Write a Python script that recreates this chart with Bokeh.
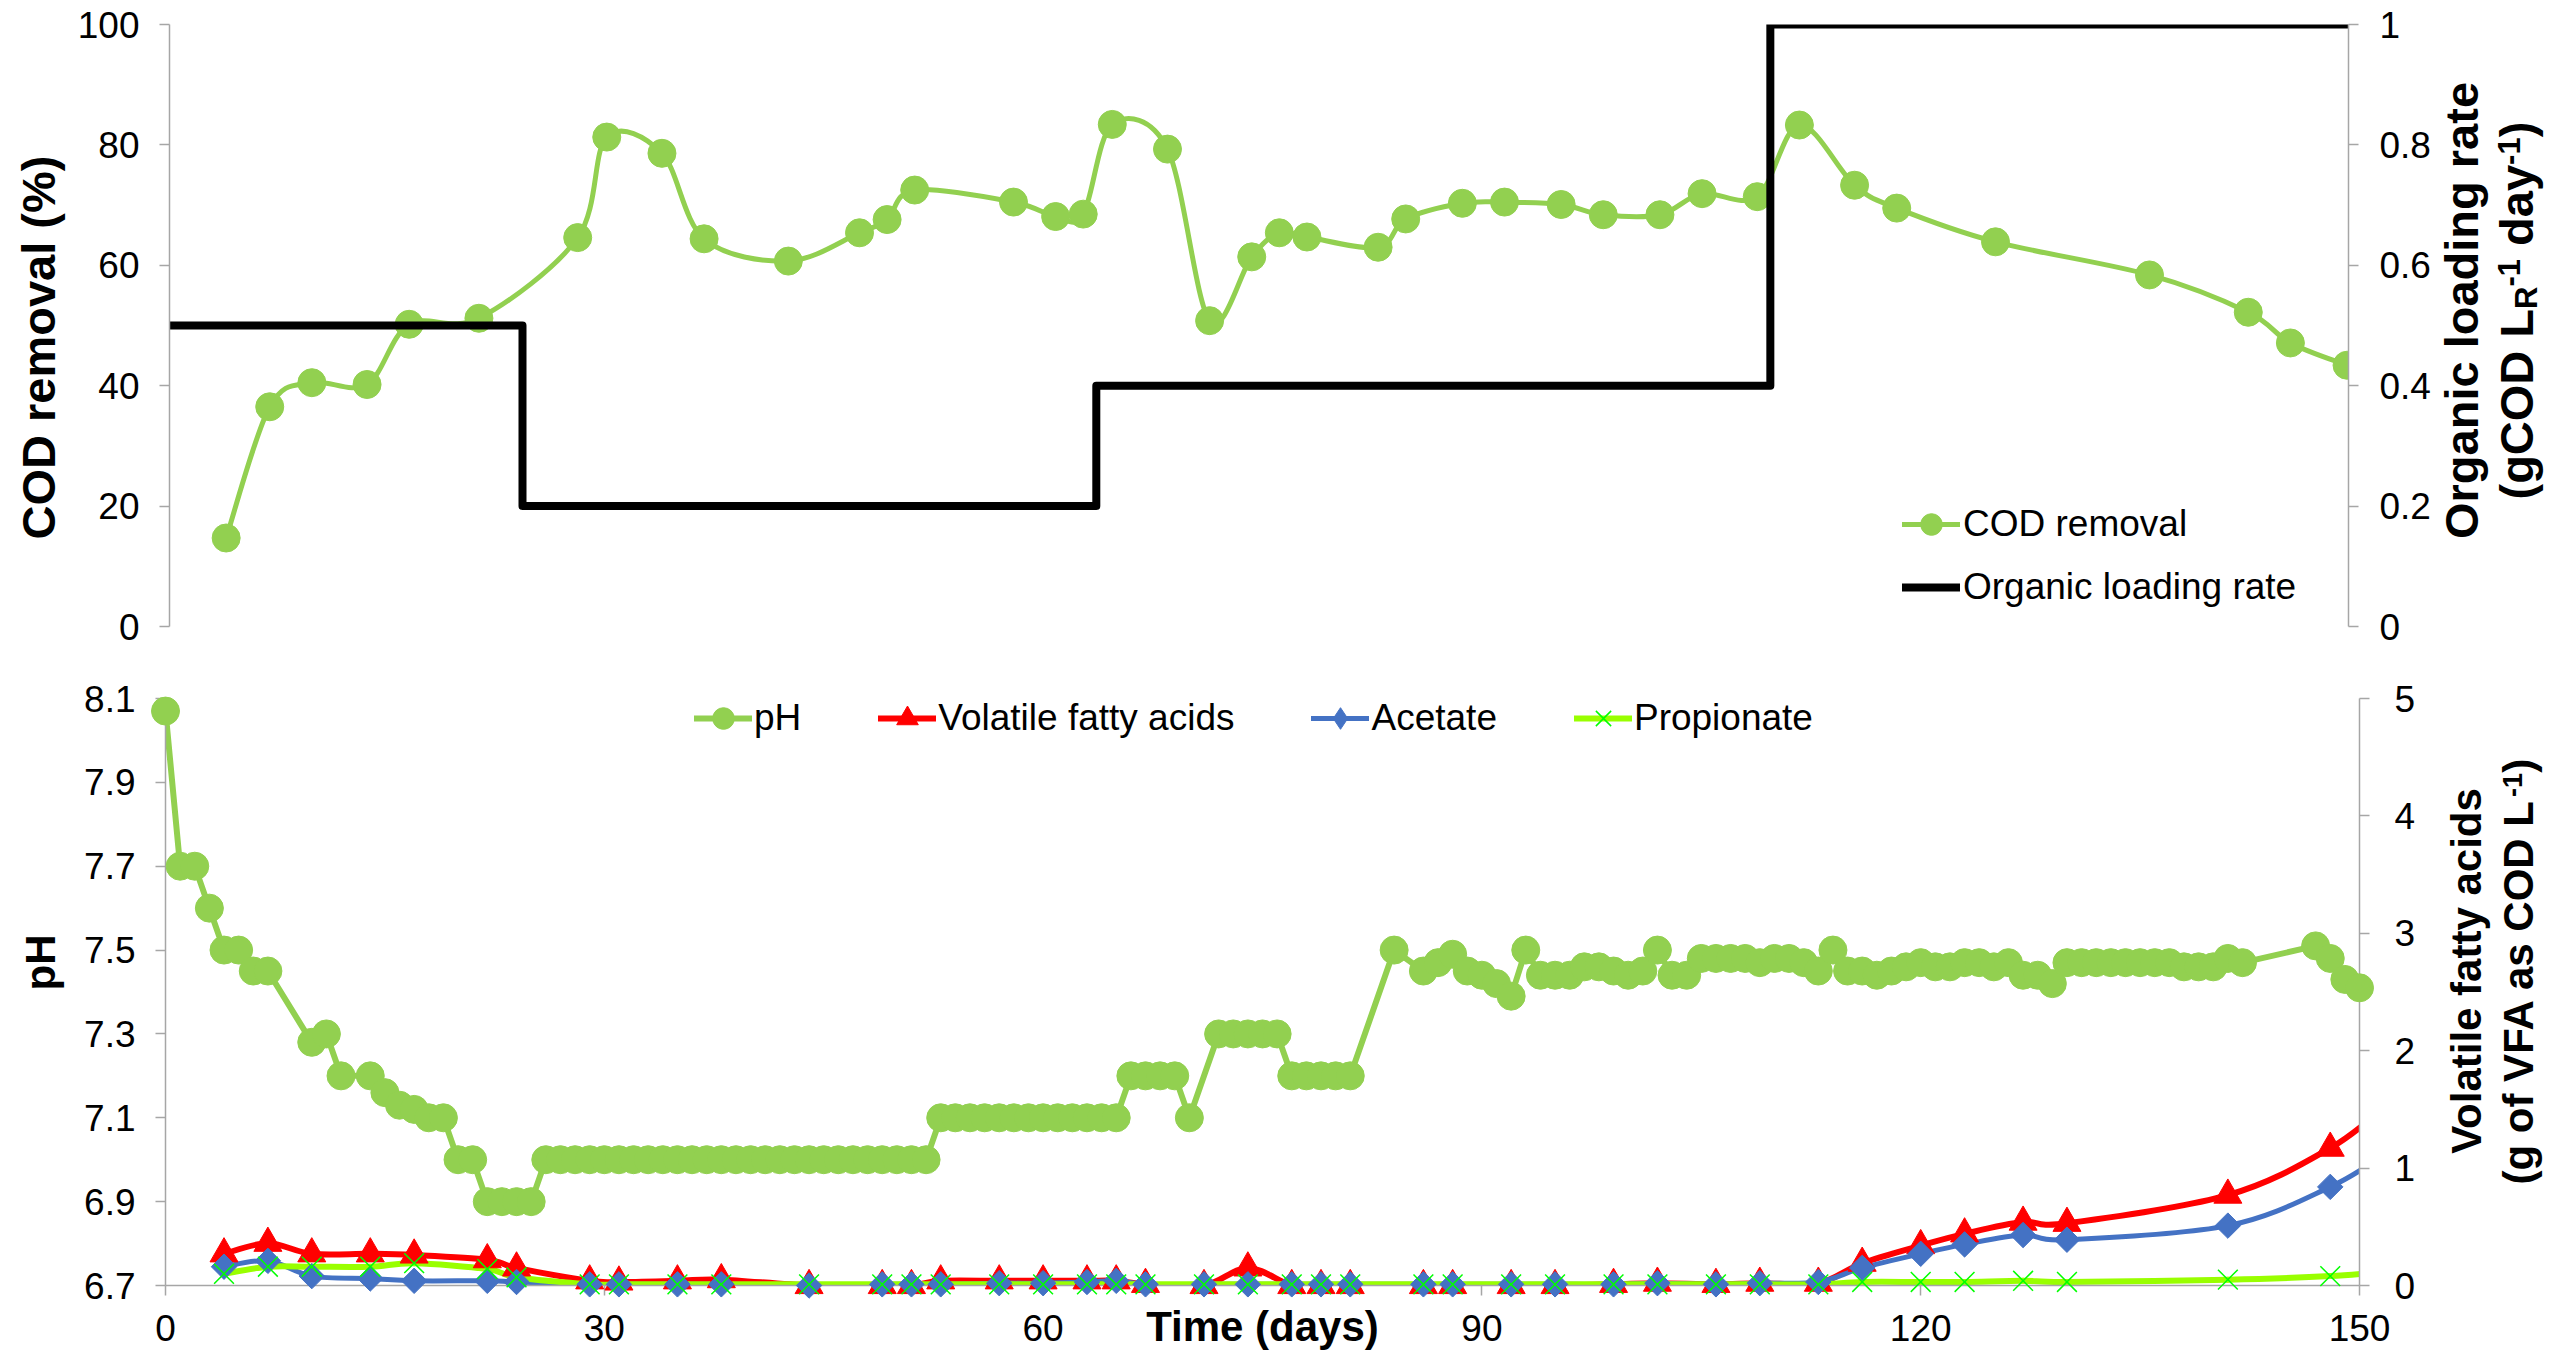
import math
from bokeh.plotting import figure
from bokeh.models import (Range1d, LinearAxis, FixedTicker, Legend, LegendItem, Label,
                          ColumnDataSource, CDSView, IndexFilter)
from bokeh.layouts import column, row
from bokeh.embed import file_html
from bokeh.resources import INLINE

FONT = "Liberation Sans"
GREEN = "#92D050"
RED = "#FF0000"
BLUE = "#4472C4"
LIME = "#99FF00"
XGREEN = "#00FF00"
AXIS_GRAY = "#A6A6A6"

# ---------------- data: top panel ----------------
cod_day = [3.9, 6.9, 9.8, 13.6, 16.5, 21.3, 28.1, 30.1, 33.9, 36.8, 42.6, 47.5, 49.4, 51.3,
           58.1, 61.0, 62.9, 64.9, 68.7, 71.6, 74.5, 76.4, 78.3, 83.2, 85.1, 89.0, 91.9,
           95.8, 98.7, 102.6, 105.5, 109.3, 112.2, 116.0, 118.9, 125.7, 136.3, 143.1, 146.0, 149.9]
cod_removal = [14.7, 36.5, 40.5, 40.2, 50.2, 51.2, 64.6, 81.3, 78.6, 64.4, 60.7, 65.4, 67.6, 72.5,
               70.5, 68.1, 68.5, 83.4, 79.3, 50.8, 61.4, 65.4, 64.7, 63.0, 67.7, 70.3, 70.5,
               70.1, 68.4, 68.4, 71.9, 71.4, 83.3, 73.3, 69.5, 63.9, 58.4, 52.2, 47.1, 43.4]
olr_day = [0, 24.3, 63.8, 110.2, 150]
olr_rate = [0.5, 0.2, 0.4, 1.0, 1.0]

# ---------------- data: bottom panel ----------------
ph_day = [0, 1, 2, 3, 4, 5, 6, 7, 10, 11, 12, 14, 15, 16, 17, 18, 19, 20, 21, 22, 23, 24, 25,
          26, 27, 28, 29, 30, 31, 32, 33, 34, 35, 36, 37, 38, 39, 40, 41, 42, 43, 44, 45, 46,
          47, 48, 49, 50, 51, 52,
          53, 54, 55, 56, 57, 58, 59, 60, 61, 62, 63, 64, 65,
          66, 67, 68, 69, 70, 72, 73, 74, 75, 76, 77, 78, 79, 80, 81,
          84, 86, 87, 88, 89, 90, 91, 92, 93, 94, 95, 96, 97, 98, 99, 100, 101, 102, 103, 104,
          105, 106, 107, 108, 109, 110, 111, 112, 113, 114, 115, 116, 117, 118, 119, 120, 121,
          122, 123, 124, 125, 126, 127, 128, 129,
          130, 131, 132, 133, 134, 135, 136, 137, 138, 139, 140, 141, 142, 147, 148, 149, 150]
ph = [8.07, 7.70, 7.70, 7.60, 7.50, 7.50, 7.45, 7.45, 7.28, 7.30, 7.20, 7.20, 7.16, 7.13, 7.12,
      7.10, 7.10, 7.00, 7.00, 6.90, 6.90, 6.90, 6.90,
      7.00, 7.00, 7.00, 7.00, 7.00, 7.00, 7.00, 7.00, 7.00, 7.00, 7.00, 7.00, 7.00, 7.00, 7.00,
      7.00, 7.00, 7.00, 7.00, 7.00, 7.00, 7.00, 7.00, 7.00, 7.00, 7.00, 7.00,
      7.10, 7.10, 7.10, 7.10, 7.10, 7.10, 7.10, 7.10, 7.10, 7.10, 7.10, 7.10, 7.10,
      7.20, 7.20, 7.20, 7.20, 7.10, 7.30, 7.30, 7.30, 7.30, 7.30, 7.20, 7.20, 7.20, 7.20, 7.20,
      7.50, 7.45, 7.47, 7.49, 7.45, 7.44, 7.42, 7.39, 7.50, 7.44, 7.44, 7.44, 7.46, 7.46, 7.45,
      7.44, 7.45, 7.50, 7.44, 7.44, 7.48, 7.48, 7.48, 7.48, 7.47, 7.48, 7.48, 7.47, 7.45, 7.50,
      7.45, 7.45, 7.44, 7.45, 7.46, 7.47, 7.46, 7.46, 7.47, 7.47, 7.46, 7.47, 7.44, 7.44, 7.42,
      7.47, 7.47, 7.47, 7.47, 7.47, 7.47, 7.47, 7.47, 7.46, 7.46, 7.46, 7.48, 7.47, 7.51, 7.48,
      7.43, 7.41]

vfa_day = [4, 7, 10, 14, 17, 22, 24, 29, 31, 35, 38, 44, 49, 51, 53, 57, 60, 63, 65, 67, 71,
           74, 77, 79, 81, 86, 88, 92, 95, 99, 102, 106, 109, 113, 116, 120, 123, 127, 130,
           141, 148, 152]
vfa = [0.27, 0.36, 0.27, 0.27, 0.26, 0.22, 0.15, 0.04, 0.03, 0.04, 0.05, 0.00, 0.00, 0.00,
       0.04, 0.04, 0.04, 0.04, 0.04, 0.01, 0.00, 0.15, 0.00, 0.00, 0.00, 0.00, 0.00, 0.00,
       0.00, 0.01, 0.02, 0.01, 0.02, 0.02, 0.19, 0.34, 0.44, 0.54, 0.53, 0.77, 1.17, 1.55]
acetate = [0.16, 0.21, 0.08, 0.06, 0.04, 0.04, 0.03, 0.01, 0.01, 0.01, 0.01, 0.00, 0.01, 0.01,
           0.01, 0.02, 0.02, 0.03, 0.04, 0.01, 0.01, 0.01, 0.01, 0.01, 0.01, 0.01, 0.01, 0.01,
           0.01, 0.01, 0.02, 0.01, 0.02, 0.03, 0.15, 0.27, 0.35, 0.43, 0.39, 0.51, 0.84, 1.14]
propionate = [0.10, 0.16, 0.16, 0.16, 0.19, 0.14, 0.07, 0.01, 0.01, 0.01, 0.01, 0.01, 0.01,
              0.01, 0.01, 0.01, 0.01, 0.01, 0.01, 0.01, 0.01, 0.01, 0.01, 0.01, 0.01, 0.01,
              0.01, 0.01, 0.01, 0.01, 0.01, 0.01, 0.01, 0.01, 0.03, 0.03, 0.03, 0.04, 0.03,
              0.05, 0.08, 0.12]

top_left_ticks = [0, 20, 40, 60, 80, 100]
top_right_ticks = [0, 0.2, 0.4, 0.6, 0.8, 1]
bot_left_ticks = [6.7, 6.9, 7.1, 7.3, 7.5, 7.7, 7.9, 8.1]
bot_right_ticks = [0, 1, 2, 3, 4, 5]
x_ticks = [0, 30, 60, 90, 120, 150]


def style_axis(ax, ticks, standoff, overrides=None):
    ax.ticker = FixedTicker(ticks=ticks)
    ax.major_label_text_font = FONT
    ax.major_label_text_font_size = "37px"
    ax.major_label_text_color = "#000000"
    ax.axis_line_color = AXIS_GRAY
    ax.axis_line_width = 1.5
    ax.major_tick_line_color = AXIS_GRAY
    ax.major_tick_line_width = 1.5
    ax.major_tick_in = 0
    ax.major_tick_out = 10
    ax.minor_tick_line_color = None
    ax.major_label_standoff = standoff
    if overrides:
        ax.major_label_overrides = overrides


def smooth_source(xs, ys):
    """Bezier segments through the data points (Excel-style smoothed line)."""
    n = len(xs)
    d = dict(x0=[], y0=[], x1=[], y1=[], cx0=[], cy0=[], cx1=[], cy1=[])
    for i in range(n - 1):
        a = max(i - 1, 0)
        b = min(i + 2, n - 1)
        d["x0"].append(xs[i]); d["y0"].append(ys[i])
        d["x1"].append(xs[i + 1]); d["y1"].append(ys[i + 1])
        d["cx0"].append(xs[i] + (xs[i + 1] - xs[a]) / 6)
        d["cy0"].append(ys[i] + (ys[i + 1] - ys[a]) / 6)
        d["cx1"].append(xs[i + 1] - (xs[b] - xs[i]) / 6)
        d["cy1"].append(ys[i + 1] - (ys[b] - ys[i]) / 6)
    return ColumnDataSource(d)


def smooth_line(p, xs, ys, color, width, **kw):
    return p.bezier(x0="x0", y0="y0", x1="x1", y1="y1", cx0="cx0", cy0="cy0",
                    cx1="cx1", cy1="cy1", source=smooth_source(xs, ys),
                    line_color=color, line_width=width, line_cap="round", **kw)


def title_panel(w, h):
    t = figure(width=w, height=h, x_range=Range1d(0, w), y_range=Range1d(0, h),
               output_backend="svg", toolbar_location=None,
               x_axis_location=None, y_axis_location=None, min_border=0)
    t.grid.visible = False
    t.outline_line_color = None
    t.background_fill_color = "white"
    t.border_fill_color = "white"
    return t


def add_text(p, text, x, y, size, align="center"):
    # screen units: measured from the (row-aligned) frame bottom of the panel
    p.add_layout(Label(x=x, y=y, x_units="screen", y_units="screen", text=text,
                       angle=math.pi / 2, text_font=FONT, text_font_style="bold",
                       text_font_size=f"{size}px", text_align=align,
                       text_baseline="middle", text_color="#000000"))


# ---------------- top figure ----------------
p1 = figure(width=2364, height=662, x_range=Range1d(0, 150), y_range=Range1d(0, 100),
            output_backend="svg", toolbar_location=None, x_axis_location=None,
            min_border_left=100, min_border_right=84, min_border_top=24, min_border_bottom=36)
# "key" range lies far outside the frame: renderers on it only feed the legend swatches
p1.extra_y_ranges = {"olr": Range1d(0, 1), "key": Range1d(-1000, -999)}
p1.grid.visible = False
p1.outline_line_color = None
p1.background_fill_color = "white"
p1.border_fill_color = "white"
p1.add_layout(LinearAxis(y_range_name="olr"), "right")
style_axis(p1.yaxis[0], top_left_ticks, 20)
style_axis(p1.yaxis[1], top_right_ticks, 21, {0: "0", 1: "1"})

cod_src = ColumnDataSource(dict(day=cod_day, cod=cod_removal))
olr_src = ColumnDataSource(dict(day=olr_day, olr=olr_rate))
smooth_line(p1, cod_day, cod_removal, GREEN, 5)
cod_key = p1.line("day", "cod", source=cod_src, y_range_name="key", line_color=GREEN,
                  line_width=5, line_cap="round")
cod_pts = p1.scatter("day", "cod", source=cod_src, marker="circle", size=28,
                     fill_color=GREEN, line_color=GREEN)
olr_line = p1.step("day", "olr", source=olr_src, mode="after", y_range_name="olr",
                   line_color="#000000", line_width=8, line_join="round", line_cap="round")

leg1 = Legend(items=[LegendItem(label="COD removal", renderers=[cod_key, cod_pts]),
                     LegendItem(label="Organic loading rate", renderers=[olr_line])],
              location=(1733, 12), orientation="vertical", padding=0, margin=0, spacing=9,
              glyph_width=58, glyph_height=54, label_height=42, label_standoff=3,
              label_text_font=FONT, label_text_font_size="37px", label_text_color="#000000",
              border_line_color=None, background_fill_alpha=0)
p1.add_layout(leg1)

tl = title_panel(69, 662)
add_text(tl, "COD removal (%)", 37.5, 279, 47)
tr = title_panel(113, 662)
add_text(tr, "Organic loading rate", 27.5, 316, 47)
add_text(tr, "(gCOD L", 83.3, 127, 47, align="left")
add_text(tr, "R", 92.9, 317.6, 31, align="left")
add_text(tr, "-1", 75.9, 340.0, 31, align="left")
add_text(tr, "day", 83.3, 380.6, 47, align="left")
add_text(tr, "-1", 75.9, 461.6, 31, align="left")
add_text(tr, ")", 83.3, 489.2, 47, align="left")

# ---------------- bottom figure ----------------
p2 = figure(width=2364, height=691, x_range=Range1d(0, 150), y_range=Range1d(6.7, 8.1),
            output_backend="svg", toolbar_location=None,
            min_border_left=96, min_border_right=74, min_border_top=36, min_border_bottom=68)
p2.extra_y_ranges = {"vfa": Range1d(0, 5), "key": Range1d(-1000, -999)}
p2.grid.visible = False
p2.outline_line_color = None
p2.background_fill_color = "white"
p2.border_fill_color = "white"
p2.add_layout(LinearAxis(y_range_name="vfa"), "right")
style_axis(p2.xaxis[0], x_ticks, 19)
style_axis(p2.yaxis[0], bot_left_ticks, 20)
style_axis(p2.yaxis[1], bot_right_ticks, 25)
p2.xaxis.axis_label = "Time (days)"
p2.xaxis.axis_label_text_font = FONT
p2.xaxis.axis_label_text_font_style = "bold"
p2.xaxis.axis_label_text_font_size = "42px"
p2.xaxis.axis_label_text_color = "#000000"
p2.xaxis.axis_label_standoff = -41

ph_src = ColumnDataSource(dict(day=ph_day, ph=ph))
vfa_src = ColumnDataSource(dict(day=vfa_day, vfa=vfa, acetate=acetate, propionate=propionate))
inside = CDSView(filter=IndexFilter(indices=[i for i, d in enumerate(vfa_day) if d <= 150]))

ph_line = p2.line("day", "ph", source=ph_src, line_color=GREEN, line_width=6,
                  line_join="round", line_cap="round")
smooth_line(p2, vfa_day, vfa, RED, 6, y_range_name="vfa")
smooth_line(p2, vfa_day, acetate, BLUE, 5, y_range_name="vfa")
smooth_line(p2, vfa_day, propionate, LIME, 6, y_range_name="vfa")

# legend swatches (drawn on the off-frame "key" range)
vfa_key = p2.line("day", "vfa", source=vfa_src, y_range_name="key", line_color=RED,
                  line_width=6, line_cap="round")
ac_key = p2.line("day", "acetate", source=vfa_src, y_range_name="key", line_color=BLUE,
                 line_width=5, line_cap="round")
ac_key_pts = p2.scatter("day", "acetate", source=vfa_src, y_range_name="key",
                        marker="diamond", size=26, fill_color=BLUE, line_color=BLUE)
pr_key = p2.line("day", "propionate", source=vfa_src, y_range_name="key", line_color=LIME,
                 line_width=6, line_cap="round")

ph_pts = p2.scatter("day", "ph", source=ph_src, marker="circle", size=28,
                    fill_color=GREEN, line_color=GREEN, level="overlay")
vfa_pts = p2.scatter("day", "vfa", source=vfa_src, view=inside, y_range_name="vfa",
                     marker="triangle", size=28, fill_color=RED, line_color=RED, level="overlay")
ac_pts = p2.scatter("day", "acetate", source=vfa_src, view=inside, y_range_name="vfa",
                    marker="square", angle=math.pi / 4, size=18, fill_color=BLUE,
                    line_color=BLUE, level="overlay")
pr_pts = p2.scatter("day", "propionate", source=vfa_src, view=inside, y_range_name="vfa",
                    marker="x", size=28, line_color=XGREEN, line_width=1.5, level="overlay")

leg2 = Legend(items=[LegendItem(label="pH", renderers=[ph_line, ph_pts]),
                     LegendItem(label="Volatile fatty acids", renderers=[vfa_key, vfa_pts]),
                     LegendItem(label="Acetate", renderers=[ac_key, ac_key_pts]),
                     LegendItem(label="Propionate", renderers=[pr_key, pr_pts])],
              location=(529, 540), orientation="horizontal", padding=0, margin=0, spacing=77,
              glyph_width=58, glyph_height=54, label_height=42, label_standoff=2,
              label_text_font=FONT, label_text_font_size="37px", label_text_color="#000000",
              border_line_color=None, background_fill_alpha=0)
p2.add_layout(leg2)

bl = title_panel(69, 691)
add_text(bl, "pH", 40.3, 323, 42)
br = title_panel(113, 691)
add_text(br, "Volatile fatty acids", 33.3, 314.5, 42)
add_text(br, "(g of VFA as COD L", 85.3, 101, 42, align="left")
add_text(br, "-1", 78.6, 488.4, 27, align="left")
add_text(br, ")", 85.3, 512.7, 42, align="left")

layout = column(row(tl, p1, tr, spacing=0), row(bl, p2, br, spacing=0), spacing=0)
open("out.html", "w").write(file_html(layout, INLINE))
